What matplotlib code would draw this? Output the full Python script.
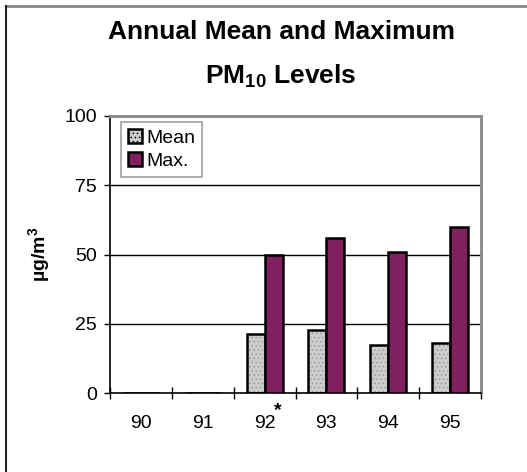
import matplotlib
matplotlib.use("Agg")
import matplotlib.pyplot as plt
from matplotlib.patches import Patch
from matplotlib.lines import Line2D
import numpy as np

years = ["90", "91", "92", "93", "94", "95"]
mean_vals = [0, 0, 21.2, 22.7, 17.5, 18.2]
max_vals = [0, 0, 50, 56, 51, 60]
notes = {"92": "*"}
yticks = [0, 25, 50, 75, 100]

MEAN_C = "#cccccc"
MAX_C = "#80205f"

plt.rcParams["font.family"] = ["Liberation Sans", "DejaVu Sans"]
plt.rcParams["mathtext.fontset"] = "custom"
plt.rcParams["mathtext.rm"] = "Liberation Sans"
plt.rcParams["mathtext.bf"] = "Liberation Sans:bold"
plt.rcParams["hatch.color"] = "#9a9a9a"
plt.rcParams["hatch.linewidth"] = 0.6

fig = plt.figure(figsize=(5.27, 4.72), dpi=100)
ax = fig.add_axes([110 / 527, 79 / 472, 371 / 527, 277 / 472])

x = np.arange(len(years))
w = 0.29
# fill with dotted texture, then black outline on top
ax.bar(x - w / 2, mean_vals, w, color=MEAN_C, hatch="....", edgecolor="#9a9a9a",
       linewidth=0, zorder=2)
ax.bar(x - w / 2, mean_vals, w, fill=False, edgecolor="black", linewidth=1.8, zorder=3)
ax.bar(x + w / 2, max_vals, w, color=MAX_C, edgecolor="black", linewidth=1.8, zorder=3)

ax.set_xlim(-0.5, len(years) - 0.5)
ax.set_ylim(0, 100)
ax.set_yticks(yticks)
ax.tick_params(axis="y", direction="out", length=4.5, width=1, labelsize=14, pad=5)
ax.set_xticks(np.arange(len(years) + 1) - 0.5)
ax.set_xticklabels([])
ax.set_xticks(x, minor=True)
ax.set_xticklabels(years, minor=True)
ax.tick_params(axis="x", which="major", direction="inout", length=8, width=1)
ax.tick_params(axis="x", which="minor", length=0, labelsize=14, pad=16)

for v in [25, 50, 75]:
    ax.axhline(v, color="black", linewidth=1, zorder=1)

ax.spines["left"].set_linewidth(1.2)
ax.spines["bottom"].set_linewidth(1.2)
ax.spines["top"].set_color("#888888")
ax.spines["right"].set_color("#888888")
ax.spines["top"].set_linewidth(2)
ax.spines["right"].set_linewidth(2)

for yr, mark in notes.items():
    i = years.index(yr)
    ax.annotate(mark, (i + 0.21, 0), xycoords=("data", "axes fraction"),
                xytext=(0, -16), textcoords="offset points", ha="center",
                fontsize=14, fontweight="bold")

ax.set_ylabel(r"µg/m$^{\mathbf{3}}$", fontsize=14, fontweight="bold", labelpad=8)

handles = [Patch(facecolor=MEAN_C, edgecolor="black", linewidth=1.8, hatch="...."),
           Patch(facecolor=MAX_C, edgecolor="black", linewidth=1.8)]
leg = ax.legend(handles, ["Mean", "Max."], loc="upper left", bbox_to_anchor=(0.03, 0.978),
                fontsize=14, fancybox=False, handlelength=0.7, handleheight=0.7,
                handletextpad=0.25, borderpad=0.35, labelspacing=0.3, borderaxespad=0)
leg.get_frame().set_edgecolor("#888888")
leg.get_frame().set_linewidth(1.2)

fig.text(282 / 527, 1 - 39 / 472, "Annual Mean and Maximum", ha="center", va="baseline",
         fontsize=19, fontweight="bold")
fig.text(281 / 527, 1 - 83 / 472, r"PM$_{\mathbf{10}}$ Levels", ha="center", va="baseline",
         fontsize=19, fontweight="bold")

# chart-area frame, cropped: only the top and left edges are visible
fig.lines.append(Line2D([6 / 527, 1], [1 - 6 / 472] * 2, transform=fig.transFigure,
                        color="#888888", linewidth=2))
fig.lines.append(Line2D([6 / 527] * 2, [0, 1 - 6 / 472], transform=fig.transFigure,
                        color="#222222", linewidth=1.5))

fig.savefig("out.png", dpi=100)
